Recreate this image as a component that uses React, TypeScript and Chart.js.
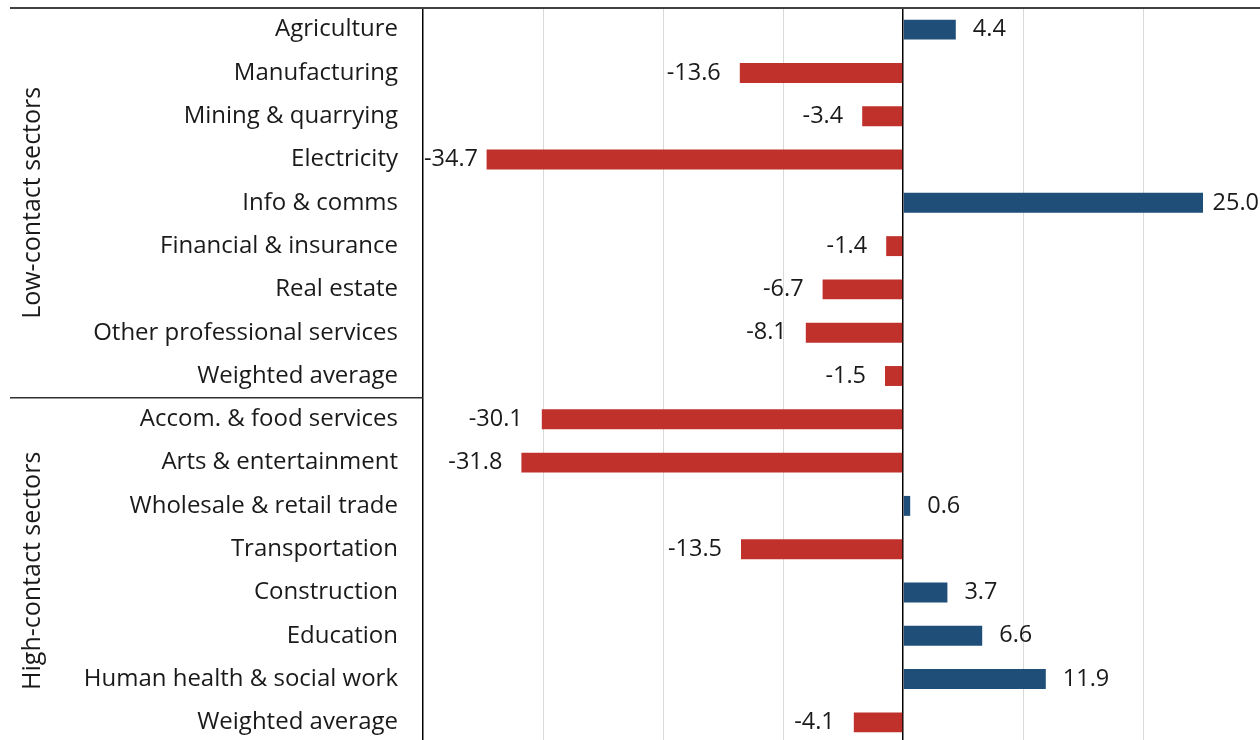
import React, { useEffect, useRef } from "react";
import { Chart, registerables } from "chart.js";

Chart.register(...registerables);

const categories = [
  "Agriculture",
  "Manufacturing",
  "Mining & quarrying",
  "Electricity",
  "Info & comms",
  "Financial & insurance",
  "Real estate",
  "Other professional services",
  "Weighted average",
  "Accom. & food services",
  "Arts & entertainment",
  "Wholesale & retail trade",
  "Transportation",
  "Construction",
  "Education",
  "Human health & social work",
  "Weighted average",
];

const values = [4.4, -13.6, -3.4, -34.7, 25.0, -1.4, -6.7, -8.1, -1.5, -30.1, -31.8, 0.6, -13.5, 3.7, 6.6, 11.9, -4.1];

const groupNames = ["Low-contact sectors", "High-contact sectors"];
const groupStarts = [0, 9];
const groupEnds = [8, 16];

const xMin = -40;
const xMax = 30;
const gridStep = 10;

const BLUE = "#1F4E79";
const RED = "#C0312C";
const FONT = "'Open Sans', Lato, sans-serif";

export default function App() {
  const ref = useRef<HTMLCanvasElement | null>(null);

  useEffect(() => {
    const canvas = ref.current;
    if (!canvas) return;

    const overlay = {
      id: "overlay",
      afterDatasetsDraw(chart: any) {
        const ctx = chart.ctx;
        const y = chart.scales.y;
        const area = chart.chartArea;
        ctx.save();
        // value labels
        const meta = chart.getDatasetMeta(0);
        ctx.font = `23.5px ${FONT}`;
        ctx.fillStyle = "#1a1a1a";
        ctx.textBaseline = "middle";
        meta.data.forEach((bar: any, i: number) => {
          const v = values[i];
          const txt = v.toFixed(1);
          const w = ctx.measureText(txt).width;
          if (v >= 0) {
            let x = bar.x + 17;
            if (x + w > 1259) x = 1259 - w;
            ctx.textAlign = "left";
            ctx.fillText(txt, x, bar.y);
          } else {
            let x = bar.x - 19;
            if (x - w < area.left + 1) x = area.left + 1 + w;
            ctx.textAlign = "right";
            ctx.fillText(txt, x, bar.y);
          }
        });
        // top line
        ctx.strokeStyle = "#404040";
        ctx.lineWidth = 2;
        ctx.beginPath();
        ctx.moveTo(10, area.top);
        ctx.lineTo(1262, area.top);
        ctx.stroke();
        // divider lines between groups
        ctx.lineWidth = 1.5;
        ctx.strokeStyle = "#303030";
        for (let g = 0; g < groupNames.length - 1; g++) {
          const py = (y.getPixelForValue(groupEnds[g]) + y.getPixelForValue(groupStarts[g + 1])) / 2;
          ctx.beginPath();
          ctx.moveTo(10, py);
          ctx.lineTo(area.left, py);
          ctx.stroke();
        }
        // group labels
        ctx.font = `25px ${FONT}`;
        ctx.fillStyle = "#1a1a1a";
        ctx.textAlign = "center";
        ctx.textBaseline = "middle";
        for (let g = 0; g < groupNames.length; g++) {
          const cy = (y.getPixelForValue(groupStarts[g]) + y.getPixelForValue(groupEnds[g])) / 2;
          ctx.save();
          ctx.translate(33, cy);
          ctx.rotate(-Math.PI / 2);
          ctx.fillText(groupNames[g], 0, 0);
          ctx.restore();
        }
        ctx.restore();
      },
    };

    const chart = new Chart(canvas, {
      type: "bar",
      data: {
        labels: categories,
        datasets: [
          {
            data: values,
            backgroundColor: values.map((v) => (v >= 0 ? BLUE : RED)),
            borderWidth: 0,
            categoryPercentage: 1,
            barPercentage: 0.46,
          },
        ],
      },
      options: {
        indexAxis: "y",
        animation: false,
        responsive: false,
        maintainAspectRatio: false,
        layout: { padding: { top: 8, right: 1, bottom: 6, left: 0 } },
        plugins: { legend: { display: false }, tooltip: { enabled: false } },
        scales: {
          x: {
            min: xMin,
            max: xMax,
            ticks: { display: false, stepSize: gridStep },
            border: { display: false },
            grid: {
              drawTicks: false,
              color: (c: any) => (c.tick && c.tick.value === 0 ? "#000000" : c.tick && c.tick.value === xMin ? "rgba(0,0,0,0)" : "#d9d9d9"),
              lineWidth: (c: any) => (c.tick && c.tick.value === 0 ? 1.5 : 1),
            },
          },
          y: {
            ticks: {
              color: "#1a1a1a",
              font: { family: FONT, size: 24 },
              padding: 25,
              autoSkip: false,
            },
            grid: { display: false, drawTicks: false },
            border: { display: true, color: "#000000", width: 1.5 },
            afterFit: (s: any) => {
              s.width = 423;
              s.paddingTop = 0;
              s.paddingBottom = 0;
            },
          },
        },
      },
      plugins: [overlay],
    });
    return () => chart.destroy();
  }, []);

  return (
    <div style={{ position: "fixed", left: 0, top: 0, width: 1260, height: 740, overflow: "hidden", background: "#fff" }}>
      <canvas ref={ref} width={1264} height={750} style={{ display: "block" }} />
    </div>
  );
}
